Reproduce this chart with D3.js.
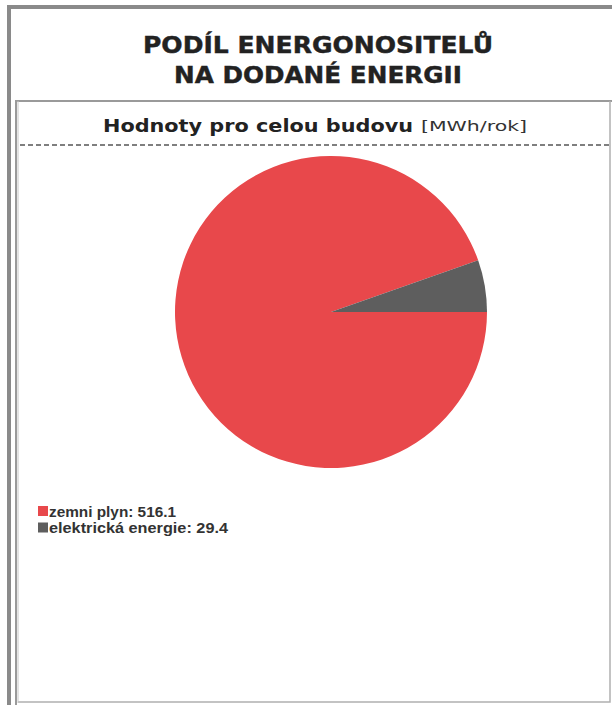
<!DOCTYPE html>
<html><head><meta charset="utf-8">
<script src="https://cdn.jsdelivr.net/npm/d3@7"></script>
<style>body{margin:0;background:#fff}svg{display:block}</style>
</head><body>
<svg id="c" width="612" height="705"></svg>
<script>
const categories = ["zemni plyn", "elektrická energie"];
const values = [516.1, 29.4];
const colors = ["#e8484b", "#5e5e5e"];
const titleLines = ["PODÍL ENERGONOSITELŮ", "NA DODANÉ ENERGII"];
const subtitle = "Hodnoty pro celou budovu";
const unit = "[MWh/rok]";

const svg = d3.select("#c");
// outer frame
svg.append("path").attr("d","M9,705 V7 H612").attr("fill","none").attr("stroke","#8a8a8a").attr("stroke-width",4);
// inner frame
svg.append("path").attr("d","M16,705 V101 H612").attr("fill","none").attr("stroke","#9a9a9a").attr("stroke-width",2);
svg.append("path").attr("d","M18,702 H610 V101").attr("fill","none").attr("stroke","#b0b0b0").attr("stroke-width",1.5);
svg.append("line").attr("x1",18).attr("x2",18).attr("y1",101).attr("y2",703).attr("stroke","#c8c8c8").attr("stroke-width",1);

// title
svg.selectAll("text.title").data(titleLines).join("text")
  .attr("class","title")
  .attr("x",318).attr("y",(d,i)=>53+i*30)
  .attr("text-anchor","middle")
  .attr("font-family","'DejaVu Sans', sans-serif").attr("font-weight","bold")
  .attr("font-size",22.5).attr("fill","#222")
  .attr("stroke","#222").attr("stroke-width",0.4)
  .attr("textLength",(d,i)=>i===0?350:288).attr("lengthAdjust","spacingAndGlyphs")
  .text(d=>d);

// subtitle
svg.append("text").attr("x",103).attr("y",132)
  .attr("font-family","'DejaVu Sans', sans-serif").attr("font-weight","bold")
  .attr("font-size",17.5).attr("fill","#222")
  .attr("textLength",310).attr("lengthAdjust","spacingAndGlyphs").text(subtitle);
svg.append("text").attr("x",421).attr("y",131)
  .attr("font-family","'DejaVu Sans', sans-serif")
  .attr("font-size",14).attr("fill","#333")
  .attr("textLength",106).attr("lengthAdjust","spacingAndGlyphs").text(unit);

// dashed line
svg.append("line").attr("x1",20).attr("x2",612).attr("y1",145).attr("y2",145)
  .attr("stroke","#555").attr("stroke-width",1.5).attr("stroke-dasharray","5,3");

// pie
const cx = 331, cy = 312, r = 156;
const pie = d3.pie().sort(null).startAngle(Math.PI/2).endAngle(Math.PI/2 + 2*Math.PI);
const arc = d3.arc().innerRadius(0).outerRadius(r);
const g = svg.append("g").attr("transform",`translate(${cx},${cy})`);
g.selectAll("path").data(pie(values)).join("path")
  .attr("d",arc).attr("fill",(d,i)=>colors[i]);

// legend
const lg = svg.append("g").attr("transform","translate(38,506)");
const items = lg.selectAll("g").data(categories).join("g")
  .attr("transform",(d,i)=>`translate(0,${i*16.5})`);
items.append("rect").attr("width",10).attr("height",10).attr("fill",(d,i)=>colors[i]);
items.append("text").attr("x",11).attr("y",10.5)
  .attr("font-family","'Liberation Sans', Arial, sans-serif").attr("font-weight","bold")
  .attr("font-size",14).attr("fill","#333")
  .attr("textLength",(d,i)=>i===0?127:179).attr("lengthAdjust","spacingAndGlyphs")
  .text((d,i)=>`${d}: ${values[i]}`);
</script>
</body></html>
